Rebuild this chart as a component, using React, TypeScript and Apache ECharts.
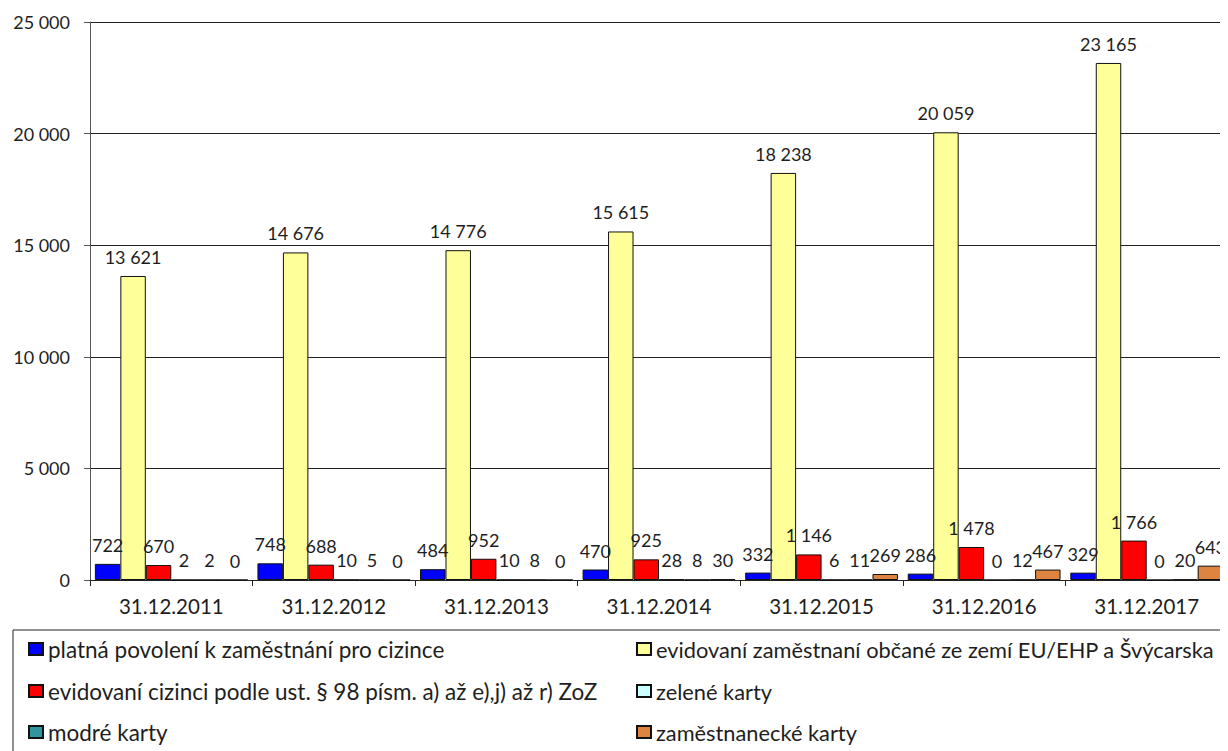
import React, { useEffect, useRef } from "react";
import * as echarts from "echarts";

const categories = ["31.12.2011", "31.12.2012", "31.12.2013", "31.12.2014", "31.12.2015", "31.12.2016", "31.12.2017"];
const seriesNames = [
  "platná povolení k zaměstnání pro cizince",
  "evidovaní zaměstnaní občané ze zemí EU/EHP a Švýcarska",
  "evidovaní cizinci podle ust. § 98 písm. a) až e),j) až r) ZoZ",
  "zelené karty",
  "modré karty",
  "zaměstnanecké karty",
];
const platna = [722, 748, 484, 470, 332, 286, 329];
const euEhp = [13621, 14676, 14776, 15615, 18238, 20059, 23165];
const par98 = [670, 688, 952, 925, 1146, 1478, 1766];
const zelene = [2, 10, 10, 28, 6, 0, 0];
const modre = [2, 5, 8, 8, 11, 12, 20];
const zamestnanecke = [0, 0, 0, 30, 269, 467, 643];
const yTicks = { min: 0, max: 25000, interval: 5000 };

const colors = ["#0000FF", "#FFFF99", "#FF0000", "#CCFFFF", "#31949F", "#DC8440"];
const values = [platna, euEhp, par98, zelene, modre, zamestnanecke];

const fmt = (v: number) => String(v).replace(/\B(?=(\d{3})+(?!\d))/g, " ");
const FONT = "Lato";
const TXT = "#1E1E1E";

// legend slots: [left, top, fontSize] per series
const legendSlots = [
  [28, 637, 22.5],
  [636, 637, 21.8],
  [28, 679, 22.5],
  [636, 679, 21.8],
  [28, 720, 22.5],
  [636, 720, 21.8],
];

export default function App() {
  const ref = useRef<HTMLDivElement>(null);
  useEffect(() => {
    if (!ref.current) return;
    const chart = echarts.init(ref.current, undefined, { renderer: "svg" });
    chart.setOption({
      animation: false,
      textStyle: { fontFamily: FONT },
      grid: { left: 90, top: 22, bottom: 171, width: 1148, containLabel: false },
      xAxis: {
        type: "category",
        data: categories,
        axisLine: { lineStyle: { color: "#222", width: 1 } },
        axisTick: { show: true, interval: 0, length: 6, lineStyle: { color: "#222" } },
        axisLabel: { interval: 0, margin: 15, fontSize: 20.5, color: TXT, fontFamily: FONT },
      },
      yAxis: {
        type: "value",
        min: yTicks.min,
        max: yTicks.max,
        interval: yTicks.interval,
        axisLine: { show: true, lineStyle: { color: "#555" } },
        axisTick: { show: true, length: 6, lineStyle: { color: "#555" } },
        splitLine: { lineStyle: { color: "#222", width: 1 } },
        axisLabel: {
          fontSize: 18,
          color: TXT,
          margin: 20,
          fontFamily: FONT,
          formatter: (v: number) => fmt(v),
        },
      },
      legend: seriesNames.map((n, i) => ({
        orient: "horizontal",
        left: legendSlots[i][0],
        top: legendSlots[i][1],
        padding: 0,
        itemWidth: 14,
        itemHeight: 12,
        icon: "rect",
        data: [n],
        selectedMode: false,
        textStyle: { fontSize: legendSlots[i][2], color: TXT, fontFamily: FONT, lineHeight: 24, padding: [0, 0, 0, 0] },
      })),
      graphic: [
        {
          type: "rect",
          shape: { x: 13, y: 630, width: 1300, height: 200 },
          style: { fill: "none", stroke: "#222", lineWidth: 1 },
          z: -1,
        },
      ],
      series: values.map((d, i) => ({
        name: seriesNames[i],
        type: "bar",
        data: d,
        barGap: "0%",
        barCategoryGap: "6%",
        itemStyle: { color: colors[i], borderColor: "#111", borderWidth: 1 },
        label: {
          show: true,
          position: "top",
          distance: 10,
          fontSize: 18,
          color: TXT,
          fontFamily: FONT,
          formatter: (p: any) => fmt(p.value),
        },
      })),
    });
    return () => chart.dispose();
  }, []);
  return <div ref={ref} style={{ width: 1228, height: 751, marginLeft: -8, marginTop: -8 }} />;
}
